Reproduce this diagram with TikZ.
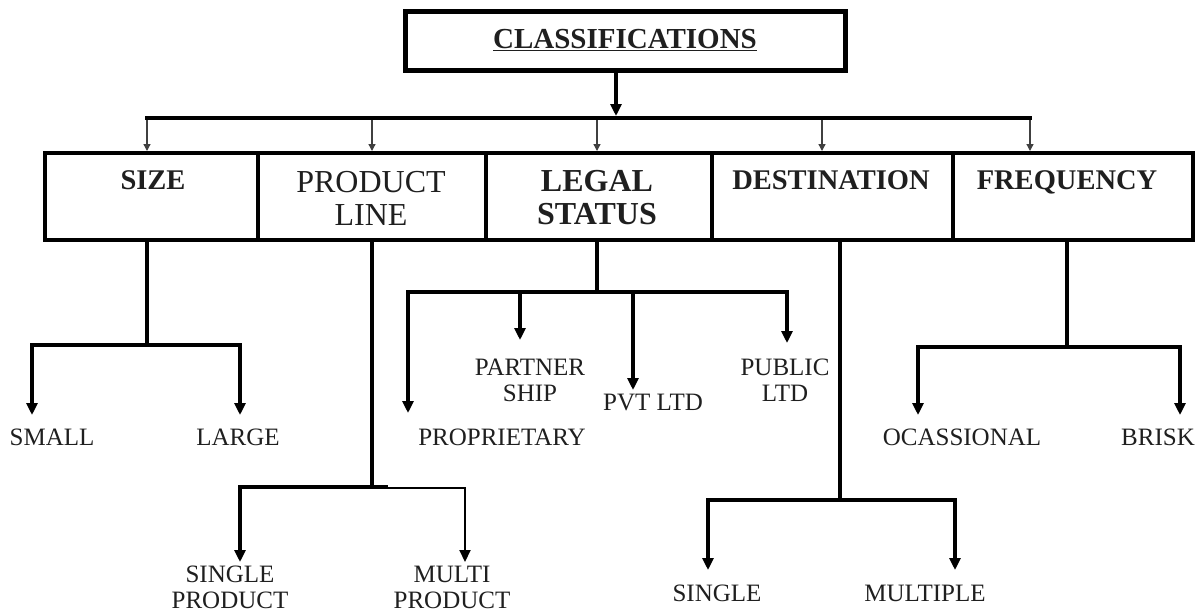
\documentclass[tikz,border=0pt]{standalone}
\usepackage{fontspec}
\setmainfont{Liberation Serif}
\usetikzlibrary{arrows.meta}
\begin{document}
\begin{tikzpicture}[x=1pt,y=-1pt,
  every node/.style={text=black!88},
  topbox/.style={draw=black, line width=5pt, minimum width=440pt, minimum height=59pt, inner sep=0pt,
    font=\fontsize{29}{32}\selectfont\bfseries},
  catbox/.style={draw=black, line width=4pt, minimum height=87pt, inner sep=0pt},
  catbold/.style={font=\fontsize{28.5}{33}\selectfont\bfseries, align=center, inner sep=0pt},
  oneline/.style={text height=18.9pt, text depth=0pt},
  catplain/.style={font=\fontsize{32}{33}\selectfont, align=center, inner sep=0pt},
  leaf/.style={font=\fontsize{25}{26}\selectfont, align=center, inner sep=0pt},
  leafone/.style={leaf, text height=16.5pt, text depth=0pt},
  heavy/.style={line width=4pt, line join=miter},
  tip/.style={-{Triangle[length=12pt,width=11pt]}},
  twotip/.style={{Triangle[length=12pt,width=11pt]}-{Triangle[length=12pt,width=11pt]}},
  fine/.style={line width=1.3pt, draw=black!75, -{Triangle[length=7pt,width=7pt]}},
]
\useasboundingbox (0,0) rectangle (1197,614);
\clip (0,0) rectangle (1197,614);
\fill[white] (0,0) rectangle (1197,614);

% root
\node[topbox] (top) at (625,40.5) {\underline{CLASSIFICATIONS}};

% category boxes
\node[catbox, minimum width=213pt] (size)  at (151.5,196.5) {};
\node[catbox, minimum width=228pt] (prod)  at (372,196.5) {};
\node[catbox, minimum width=226pt] (legal) at (599,196.5) {};
\node[catbox, minimum width=241pt] (dest)  at (832.5,196.5) {};
\node[catbox, minimum width=240pt] (freq)  at (1073,196.5) {};

\node[catbold, oneline] (sizeT) at (153,180) {SIZE};
\node[catplain] (prodT) at (371,198) {PRODUCT\\LINE};
\node[catbold, font=\fontsize{32}{33}\selectfont\bfseries] (legalT) at (597,198) {LEGAL\\STATUS};
\node[catbold, oneline] (destT) at (831,180) {DESTINATION};
\node[catbold, oneline] (freqT) at (1067,180) {FREQUENCY};

% leaves
\node[leafone] (small) at (52,437) {SMALL};
\node[leafone] (large) at (238,437) {LARGE};
\node[leafone] (prop)  at (502,437) {PROPRIETARY};
\node[leaf] (partner)  at (530,380) {PARTNER\\SHIP};
\node[leafone] (pvt)   at (653,402) {PVT LTD};
\node[leaf] (public)   at (785,380) {PUBLIC\\LTD};
\node[leaf] (sprod)    at (230,587) {SINGLE\\PRODUCT};
\node[leaf] (mprod)    at (452,587) {MULTI\\PRODUCT};
\node[leafone] (single)   at (717,593) {SINGLE};
\node[leafone] (multiple) at (925,593) {MULTIPLE};
\node[leafone] (ocas)  at (962,437) {OCASSIONAL};
\node[leafone] (brisk) at (1158,437) {BRISK};

% root to bus
\coordinate (b0) at (616,116);
\draw[heavy, tip] (top.south -| b0) -- (b0);
\coordinate (busL) at (145,118);
\coordinate (busR) at (1032,118);
\draw[heavy] (busL) -- (busR);
\coordinate (f1) at (147,120);
\coordinate (f2) at (372,120);
\coordinate (f3) at (597,120);
\coordinate (f4) at (822,120);
\coordinate (f5) at (1030,120);
\draw[fine] (f1) -- (f1 |- size.north);
\draw[fine] (f2) -- (f2 |- prod.north);
\draw[fine] (f3) -- (f3 |- legal.north);
\draw[fine] (f4) -- (f4 |- dest.north);
\draw[fine] (f5) -- (f5 |- freq.north);

% size
\coordinate (s0) at (147,345);
\coordinate (sA) at (32,345);   \coordinate (sAt) at (32,415);
\coordinate (sB) at (240,345);  \coordinate (sBt) at (240,415);
\draw[heavy] (size.south -| s0) -- (s0);
\draw[heavy, twotip] (sAt) -- (sA) -- (sB) -- (sBt);

% product line
\coordinate (p0) at (372,487);
\coordinate (pA) at (240,487);  \coordinate (pAt) at (240,562);
\coordinate (pM) at (388,487);
\coordinate (pB) at (465,488);  \coordinate (pBt) at (465,562);
\draw[heavy] (prod.south -| p0) -- (p0);
\draw[heavy, tip] (pM) -- (pA) -- (pAt);
\draw[line width=2pt, line join=miter, tip] (pM |- pB) -- (pB) -- (pBt);

% legal status
\coordinate (l0) at (597,292);
\coordinate (lA) at (408,292);  \coordinate (lAt) at (408,413);
\coordinate (lB) at (787,292);  \coordinate (lBt) at (787,343);
\coordinate (lC) at (520,292);  \coordinate (lCt) at (520,340);
\coordinate (lD) at (633,292);  \coordinate (lDt) at (633,390);
\draw[heavy] (legal.south -| l0) -- (l0);
\draw[heavy, twotip] (lAt) -- (lA) -- (lB) -- (lBt);
\draw[heavy, tip] (lC) -- (lCt);
\draw[heavy, tip] (lD) -- (lDt);

% destination
\coordinate (d0) at (840,500);
\coordinate (dA) at (708,500);  \coordinate (dAt) at (708,570);
\coordinate (dB) at (955,500);  \coordinate (dBt) at (955,570);
\draw[heavy] (dest.south -| d0) -- (d0);
\draw[heavy, twotip] (dAt) -- (dA) -- (dB) -- (dBt);

% frequency
\coordinate (q0) at (1067,347);
\coordinate (qA) at (918,347);  \coordinate (qAt) at (918,415);
\coordinate (qB) at (1180,347); \coordinate (qBt) at (1180,415);
\draw[heavy] (freq.south -| q0) -- (q0);
\draw[heavy, twotip] (qAt) -- (qA) -- (qB) -- (qBt);
\end{tikzpicture}
\end{document}
